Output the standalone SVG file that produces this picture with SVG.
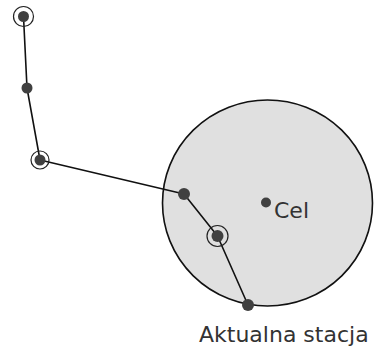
<svg xmlns="http://www.w3.org/2000/svg" width="374" height="351" viewBox="0 0 374 351">
<style>
.dot{fill:#404040}
.ring{fill:none;stroke:#222;stroke-width:1.2}
.conn{fill:none;stroke:#111;stroke-width:1.6;stroke-linejoin:round}
.lbl{font-family:"DejaVu Sans",Verdana,sans-serif;font-size:22px;fill:#333}
</style>
<rect width="374" height="351" fill="#fff"/>
<g id="area">
<ellipse cx="267.5" cy="203" rx="105" ry="103" fill="#e0e0e0" stroke="#111" stroke-width="1.6"/>
</g>
<g id="connectors">
<polyline class="conn" points="23.5,16.5 27,88 40,160 184,194 217.5,236 248,305"/>
</g>
<g id="p1"><circle class="ring" cx="23.5" cy="16.5" r="10"/><circle class="dot" cx="23.5" cy="16.5" r="5.5"/></g>
<g id="p2"><circle class="dot" cx="27" cy="88" r="5.5"/></g>
<g id="p3"><circle class="ring" cx="40" cy="160" r="9"/><circle class="dot" cx="40" cy="160" r="5.5"/></g>
<g id="p4"><circle class="dot" cx="184" cy="194" r="6"/></g>
<g id="p5"><circle class="ring" cx="217.5" cy="236" r="10.5"/><circle class="dot" cx="217.5" cy="236" r="6"/></g>
<g id="p6"><circle class="dot" cx="248" cy="305" r="6"/><text class="lbl" x="199" y="342">Aktualna stacja</text></g>
<g id="cel"><circle class="dot" cx="266" cy="202.5" r="5"/><text class="lbl" x="274" y="218">Cel</text></g>
</svg>
